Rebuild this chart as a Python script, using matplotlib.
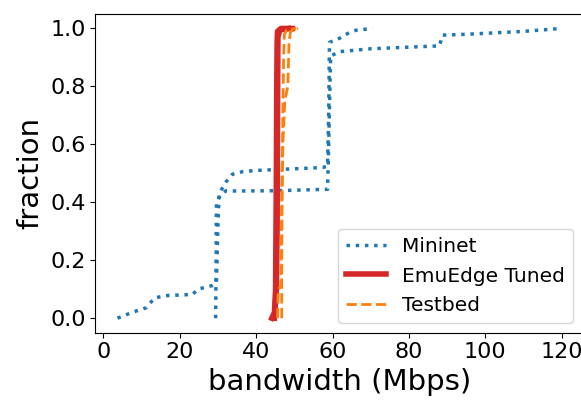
import matplotlib
matplotlib.use("Agg")
import matplotlib.pyplot as plt

# Mininet: two flows (CDF points)
mininet_a_x = [3.7, 7.5, 11.2, 13.4, 16.4, 23.4, 24.7, 28.6, 29.6, 30.0, 30.3, 32.1, 33.8, 36.5, 40.0, 57.4, 58.7, 59.0, 59.2, 61.8, 64.4, 66.2, 70.5]
mininet_a_y = [0.0, 0.02, 0.036, 0.07, 0.078, 0.082, 0.10, 0.113, 0.12, 0.32, 0.43, 0.47, 0.497, 0.506, 0.51, 0.52, 0.525, 0.70, 0.952, 0.966, 0.986, 0.994, 1.0]
mininet_b_x = [29.4, 29.5, 29.6, 30.8, 32.1, 34.7, 45.0, 58.7, 59.0, 59.2, 59.5, 61.8, 70.0, 88.0, 88.8, 95.0, 110.0, 119.8]
mininet_b_y = [0.0, 0.15, 0.40, 0.427, 0.44, 0.439, 0.44, 0.445, 0.60, 0.72, 0.905, 0.92, 0.93, 0.94, 0.977, 0.98, 0.99, 1.0]

# EmuEdge Tuned: two flows
emu_a_x = [44.1, 44.8, 45.1, 45.2, 45.3, 45.4, 45.5, 45.6, 46.5, 49.5]
emu_a_y = [0.0, 0.02, 0.10, 0.30, 0.50, 0.80, 0.95, 0.99, 1.0, 1.0]
emu_b_x = [44.8, 45.3, 45.5, 45.6, 45.7, 46.2, 48.5]
emu_b_y = [0.0, 0.10, 0.32, 0.70, 0.97, 0.995, 1.0]

# Testbed: two flows
testbed_a_x = [45.6, 45.7, 45.8, 46.5, 46.6, 46.8, 47.0, 47.2, 47.4, 48.0, 50.5]
testbed_a_y = [0.0, 0.05, 0.10, 0.11, 0.30, 0.50, 0.70, 0.90, 0.98, 0.995, 1.0]
testbed_b_x = [46.7, 46.7, 46.8, 47.0, 47.5, 48.3, 48.6, 49.0, 51.0]
testbed_b_y = [0.0, 0.20, 0.40, 0.60, 0.75, 0.80, 0.95, 0.99, 1.0]

fig = plt.figure(figsize=(5.81, 4.01), dpi=100)
ax = fig.add_axes([95.3 / 581, 68.3 / 401, 487.8 / 581, 318.7 / 401])

ax.plot(mininet_a_x, mininet_a_y, ':', color='tab:blue', lw=2.5, label='Mininet')
ax.plot(mininet_b_x, mininet_b_y, ':', color='tab:blue', lw=2.5)
ax.plot(emu_a_x, emu_a_y, '-', color='tab:red', lw=4, label='EmuEdge Tuned')
ax.plot(emu_b_x, emu_b_y, '-', color='tab:red', lw=4)
ax.plot(testbed_a_x, testbed_a_y, '--', color='tab:orange', lw=2, label='Testbed')
ax.plot(testbed_b_x, testbed_b_y, '--', color='tab:orange', lw=2)

ax.set_xticks([0, 20, 40, 60, 80, 100, 120])
ax.set_yticks([0.0, 0.2, 0.4, 0.6, 0.8, 1.0])
ax.tick_params(labelsize=16)
ax.set_xlabel('bandwidth (Mbps)', fontsize=21)
ax.set_ylabel('fraction', fontsize=21)
ax.legend(loc='lower right', fontsize=14.5)

fig.savefig('out.png', dpi=100)
